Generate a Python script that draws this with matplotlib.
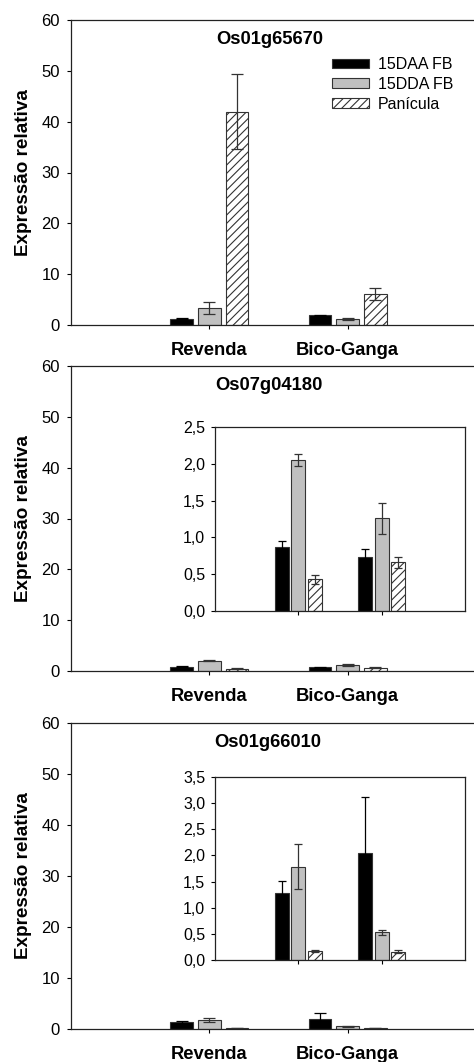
import numpy as np
import matplotlib
matplotlib.use('Agg')
from matplotlib import pyplot as plt
from matplotlib.ticker import FuncFormatter

plt.rcParams['font.family'] = ['Liberation Sans', 'DejaVu Sans']
plt.rcParams['hatch.linewidth'] = 0.8

# Data
groups = ['Revenda', 'Bico-Ganga']
series = ['15DAA FB', '15DDA FB', 'Panícula']

genes = ['Os01g65670', 'Os07g04180', 'Os01g66010']

# mean / error per series (rows) and group (columns)
mean_65670 = [[1.2, 1.9], [3.4, 1.1], [42.0, 6.1]]
err_65670 = [[0.1, 0.15], [1.2, 0.2], [7.3, 1.25]]

mean_04180 = [[0.87, 0.74], [2.05, 1.26], [0.43, 0.66]]
err_04180 = [[0.08, 0.10], [0.085, 0.21], [0.065, 0.07]]

mean_66010 = [[1.29, 2.04], [1.78, 0.53], [0.18, 0.16]]
err_66010 = [[0.22, 1.07], [0.43, 0.045], [0.02, 0.03]]

inset_ymax = [None, 2.5, 3.5]

faces = ['black', '#c0c0c0', 'white']
hatches = [None, None, '////']
ecolors = ['black', '#333333', '#333333']
edge = '#333333'

W, H = 474, 1062
fig = plt.figure(figsize=(W / 100, H / 100), dpi=100)


def px_axes(left, top, right, bottom):
    return fig.add_axes([left / W, 1 - bottom / H, (right - left) / W, (bottom - top) / H])


def draw_bars(ax, means, errs, capsize):
    x = np.arange(len(groups))
    for i in range(len(series)):
        ax.bar(x + (i - 1) * 0.2, means[i], width=0.165, color=faces[i],
               edgecolor=edge, linewidth=0.8, hatch=hatches[i], label=series[i],
               yerr=errs[i], error_kw=dict(ecolor=ecolors[i], elinewidth=0.9,
                                           capsize=capsize, capthick=0.9))
    ax.set_xlim(-1, 2)
    ax.set_xticks(x)


def comma(v, pos):
    return f'{v:.1f}'.replace('.', ',')


panels = [(20, 325), (366, 671), (723, 1029)]
title_x = [270, 269, 268]
data = [(mean_65670, err_65670), (mean_04180, err_04180), (mean_66010, err_66010)]
insets = [None, (427, 611), (777, 960)]

for k in range(3):
    top, bot = panels[k]
    ax = px_axes(71, top, 486, bot)
    means, errs = data[k]
    draw_bars(ax, means, errs, 4)
    ax.set_ylim(0, 60)
    ax.set_yticks(range(0, 61, 10))
    ax.set_xticklabels(groups, fontsize=13.2, fontweight='bold')
    ax.tick_params(axis='y', length=3, width=0.8, pad=5, labelsize=12)
    ax.tick_params(axis='x', length=3, width=0.8, pad=9)
    for s in ax.spines.values():
        s.set_linewidth(0.9)
        s.set_color('#222222')
    ax.set_ylabel('Expressão relativa', fontsize=13.6, fontweight='bold')
    ax.yaxis.set_label_coords(-0.094, 0.5)
    ax.text((title_x[k] - 71) / 415, 0.935, genes[k], transform=ax.transAxes,
            ha='center', va='center', fontsize=13.2, fontweight='bold')

    if k == 0:
        ax.legend(loc='upper left', bbox_to_anchor=((332 - 71) / 415, (325 - 57) / 305),
                  frameon=False, fontsize=11.5, borderpad=0, borderaxespad=0,
                  handlelength=2.3, handleheight=0.55, handletextpad=0.55,
                  labelspacing=0.3)

    if insets[k] is not None:
        itop, ibot = insets[k]
        ins = px_axes(215, itop, 465, ibot)
        draw_bars(ins, means, errs, 3)
        ymax = inset_ymax[k]
        ins.set_ylim(0, ymax)
        ins.set_yticks(np.arange(0, ymax + 0.01, 0.5))
        ins.yaxis.set_major_formatter(FuncFormatter(comma))
        ins.set_xticklabels([])
        ins.tick_params(axis='y', length=3, width=0.8, pad=4, labelsize=11.5)
        ins.tick_params(axis='x', length=3, width=0.8)
        for s in ins.spines.values():
            s.set_linewidth(0.9)
            s.set_color('#222222')

fig.savefig('out.png', dpi=100)
